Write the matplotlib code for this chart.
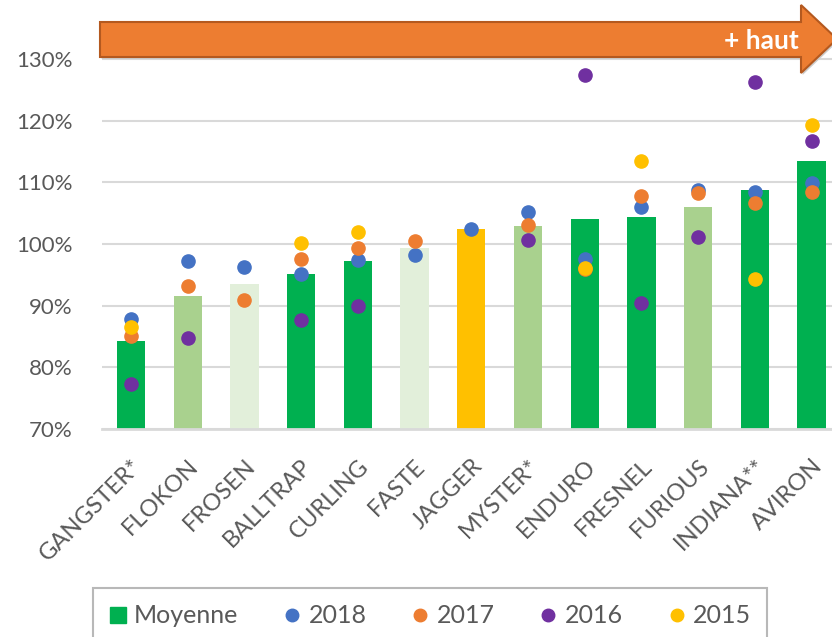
import matplotlib.pyplot as plt
import numpy as np
from matplotlib.lines import Line2D
from matplotlib.patches import Polygon

# categories and values (en %)
labels = ["GANGSTER*", "FLOKON", "FROSEN", "BALLTRAP", "CURLING", "FASTE", "JAGGER",
          "MYSTER*", "ENDURO", "FRESNEL", "FURIOUS", "INDIANA**", "AVIRON"]
moyenne = [84.2, 91.6, 93.5, 95.1, 97.2, 99.3, 102.4, 102.9, 104.1, 104.4, 106.0, 108.8, 113.5]
v2018 = [87.9, 97.2, 96.3, 95.2, 97.4, 98.2, 102.5, 105.1, 97.5, 106.0, 108.7, 108.4, 109.8]
v2017 = [85.1, 93.1, 90.9, 97.6, 99.4, 100.4, np.nan, 103.1, 95.9, 107.8, 108.2, 106.6, 108.4]
v2016 = [77.3, 84.7, np.nan, 87.6, 90.0, np.nan, np.nan, 100.7, 127.4, 90.5, 101.1, 126.3, 116.7]
v2015 = [86.6, np.nan, np.nan, 100.1, 102.0, np.nan, np.nan, np.nan, 96.1, 113.5, np.nan, 94.3, 119.3]
# couleur de barre par catégorie
bar_colors = ["#00B050", "#A9D18E", "#E2EFDA", "#00B050", "#00B050", "#E2EFDA", "#FFC000",
              "#A9D18E", "#00B050", "#00B050", "#A9D18E", "#00B050", "#00B050"]

series = [("2018", v2018, "#4472C4"), ("2017", v2017, "#ED7D31"),
          ("2016", v2016, "#7030A0"), ("2015", v2015, "#FFC000")]

plt.rcParams['font.family'] = ['Lato', 'DejaVu Sans']
grey = "#595959"

fig = plt.figure(figsize=(8.32, 6.37), dpi=100)
ax = fig.add_axes([102 / 832, 1 - 429 / 637, 1 - 102 / 832, (429 - 28) / 637])

x = np.arange(len(labels))
ax.bar(x, moyenne, width=0.5, color=bar_colors, zorder=2)
for name, vals, col in series:
    ax.plot(x, vals, "o", color=col, markersize=9.5, zorder=3)

ax.set_xlim(-0.511, 12.36)
ax.set_ylim(70, 135)
ax.set_yticks(np.arange(70, 131, 10))
ax.set_yticklabels([f"{v}%" for v in range(70, 131, 10)])
ax.set_xticks(x)
ax.set_xticklabels(labels, rotation=45, ha="right", rotation_mode="anchor")
ax.tick_params(axis="y", length=0, pad=21, labelsize=16, labelcolor=grey)
ax.tick_params(axis="x", length=0, pad=19, labelsize=17, labelcolor=grey)
ax.grid(axis="y", color="#D9D9D9", linewidth=1.5, zorder=0)
ax.set_axisbelow(True)
for s in ["top", "right", "left"]:
    ax.spines[s].set_visible(False)
ax.spines["bottom"].set_color("#D9D9D9")
ax.spines["bottom"].set_linewidth(2)

# flèche "+ haut"
W, H = 832, 637
pts = [(100, 22), (801, 22), (801, 5), (837, 39), (801, 73), (801, 57), (100, 57)]
shadow = Polygon([(px / W + 0.002, 1 - (py + 2) / H) for px, py in pts], closed=True,
                 transform=fig.transFigure, facecolor="#CCCCCC", edgecolor="none", zorder=4)
arrow = Polygon([(px / W, 1 - py / H) for px, py in pts], closed=True,
                transform=fig.transFigure, facecolor="#ED7D31", edgecolor="#B4591F",
                linewidth=1.5, zorder=5)
fig.patches.extend([shadow, arrow])
fig.text(799 / W, 1 - 41 / H, "+ haut", color="white", fontsize=19, fontweight="bold",
         ha="right", va="center", zorder=6)

# légende (le bas du cadre sort de l'image comme dans l'original)
handles = [Line2D([], [], marker="s", color="#00B050", linestyle="none", markersize=12)]
handles += [Line2D([], [], marker="o", color=col, linestyle="none", markersize=9)
            for _, _, col in series]
leg = fig.legend(handles, ["Moyenne"] + [s[0] for s in series], loc="upper left",
                 bbox_to_anchor=(93 / W, 1 - 588 / H), borderaxespad=0, ncol=5,
                 frameon=True, fancybox=False, edgecolor="#A6A6A6", fontsize=18,
                 handlelength=0.7, handletextpad=0.3, columnspacing=1.8, borderpad=0.65,
                 labelcolor=grey)
leg.get_frame().set_linewidth(1.5)

fig.savefig("out.png", dpi=100)
